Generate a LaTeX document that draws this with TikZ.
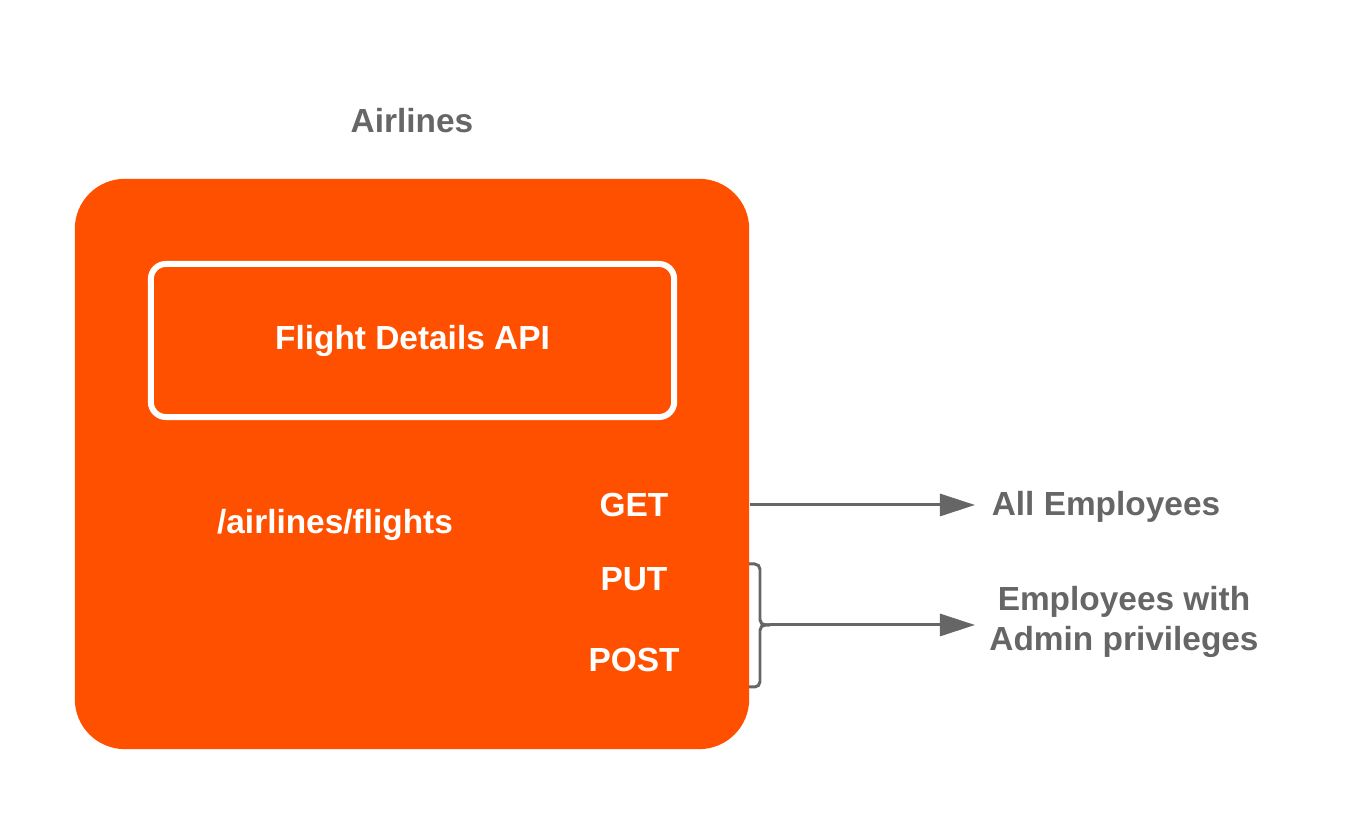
\documentclass[tikz,border=0pt]{standalone}
\usepackage{fontspec}
\setmainfont{Liberation Sans}
\usetikzlibrary{arrows.meta}
\definecolor{airorange}{RGB}{255,80,0}
\definecolor{linkgray}{RGB}{102,102,102}

\begin{document}
\begin{tikzpicture}[x=0.01cm, y=-0.01cm, every node/.style={font=\fontsize{9.5}{11.5}\selectfont\bfseries}]
        \tikzstyle{outer}=[fill=airorange, draw=none, shape=rectangle, rounded corners=0.5cm, minimum width=6.74cm, minimum height=5.7cm, inner sep=0pt]
        \tikzstyle{inner}=[draw=white, line width=1.7pt, shape=rectangle, rounded corners=0.15cm, minimum width=5.23cm, minimum height=1.53cm, inner sep=0pt, text=white]
        \tikzstyle{white label}=[text=white, inner sep=0pt]
        \tikzstyle{gray label}=[text=linkgray, inner sep=0pt, align=center]
        \tikzstyle{arrow}=[-{Triangle[length=0.35cm, width=0.22cm]}, draw=linkgray, line width=0.85pt]
        \tikzstyle{brace}=[draw=linkgray, line width=0.85pt, rounded corners=1.5pt]

        \useasboundingbox (0,0) rectangle (1350,825);

        % orange service box
        \node [style=outer] (0) at (412,464) {};
        \node [style=gray label] (1) at (412,121) {Airlines};
        \node [style=inner] (2) at (412.5,340.5) {Flight Details API};
        \node [style=white label] (3) at (335,525) {/airlines/flights};
        \node [style=white label] (4) at (634,505) {GET};
        \node [style=white label] (5) at (634,579) {PUT};
        \node [style=white label] (6) at (634,660) {POST};

        % audiences
        \node [style=gray label] (7) at (1106,507) {All Employees};
        \node [style=gray label] (8) at (1124,622) {Employees with\\Admin privileges};

        \coordinate (9) at (0.east |- 4);
        \coordinate (10) at (749,564);
        \coordinate (11) at (749,687);
        \coordinate (12) at (770,625);
        \coordinate (13) at (975,625);
        \coordinate (14) at (975,505);

        \draw [style=arrow] (9) to (14);
        \draw [style=brace] (10) -- (760,564) -- (760,625) -- (12);
        \draw [style=brace] (11) -- (760,687) -- (760,625) -- (12);
        \draw [style=arrow] (12) to (13);
\end{tikzpicture}
\end{document}
